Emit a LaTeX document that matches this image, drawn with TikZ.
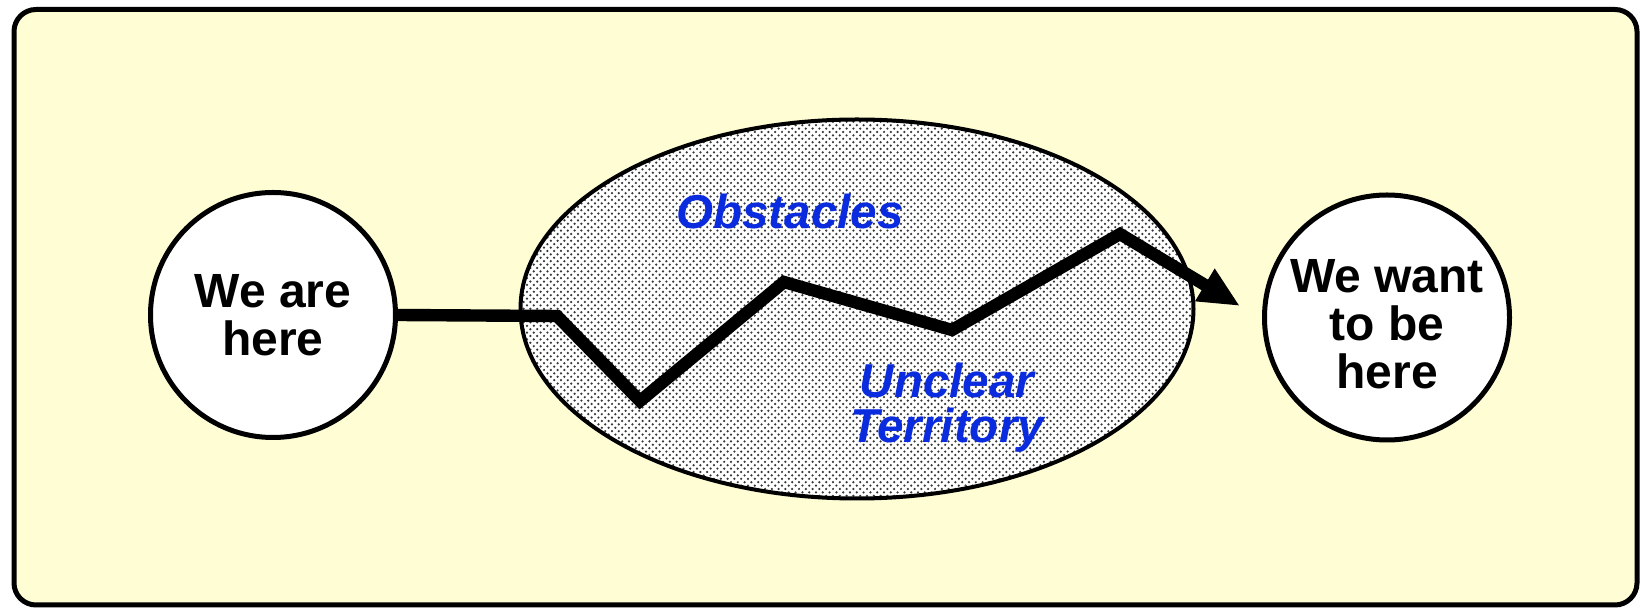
\documentclass[tikz,border=0pt]{standalone}
\usepackage{fontspec}
\newfontfamily\sansfam{Liberation Sans}
\usetikzlibrary{shapes.geometric,patterns,arrows.meta}
\definecolor{bg}{RGB}{255,253,212}
\definecolor{zoneblue}{RGB}{10,44,222}
\definecolor{dotgray}{RGB}{55,55,55}
\pgfdeclarepatternformonly{zonedots}{\pgfqpoint{-1pt}{-1pt}}{\pgfqpoint{2.4pt}{2.4pt}}{\pgfqpoint{3.4pt}{3.4pt}}%
{%
  \pgfpathcircle{\pgfqpoint{0pt}{0pt}}{.62pt}%
  \pgfpathcircle{\pgfqpoint{1.7pt}{1.7pt}}{.62pt}%
  \pgfusepath{fill}%
}
\tikzset{
  frame/.style={draw=black, line width=2.5pt, rounded corners=11pt, fill=bg},
  placetext/.style={inner sep=0pt, align=center, text=black,
    font=\sansfam\bfseries\fontsize{24}{24}\selectfont},
  place/.style={circle, draw=black, line width=2.5pt, fill=white, inner sep=0pt, placetext},
  zone/.style={ellipse, draw=black, line width=2pt, preaction={fill=white},
    pattern=zonedots, pattern color=dotgray, inner sep=0pt},
  zonetext/.style={text=zoneblue, inner sep=0pt, align=center,
    font=\sansfam\bfseries\itshape\fontsize{23.8}{22.5}\selectfont},
  route/.style={draw=black, line width=6.2pt, line join=miter,
    -{Triangle[length=20.5pt,width=17.5pt]}}
}
\begin{document}
\begin{tikzpicture}[x=0.5pt,y=-0.5pt]
\useasboundingbox (0,0) rectangle (1640,608);
\fill[white] (0,0) rectangle (1640,608);
\draw[frame] (14,9.5) rectangle (1637,605);
\node[zone, minimum width=336.5pt, minimum height=189.5pt] (zone) at (857,309) {};
\node[place, minimum size=122.5pt] (here) at (273,315) {We are\\here};
\node[place, minimum size=122.5pt,
  label={[placetext, yshift=-3.5pt]center:{We want\\to be\\here}}] (goal) at (1387,317.5) {};
\node[zonetext, anchor=base] (obst) at (790,229) {Obstacles};
\node[zonetext] (unclear) at (947,408) {Unclear\\Territory};
\coordinate (tip) at (1240,306);
\draw[route] (here.east) -- (557,316) -- (640,401) -- (784,282) -- (952,330) -- (1120,234) -- (tip);
\end{tikzpicture}
\end{document}
